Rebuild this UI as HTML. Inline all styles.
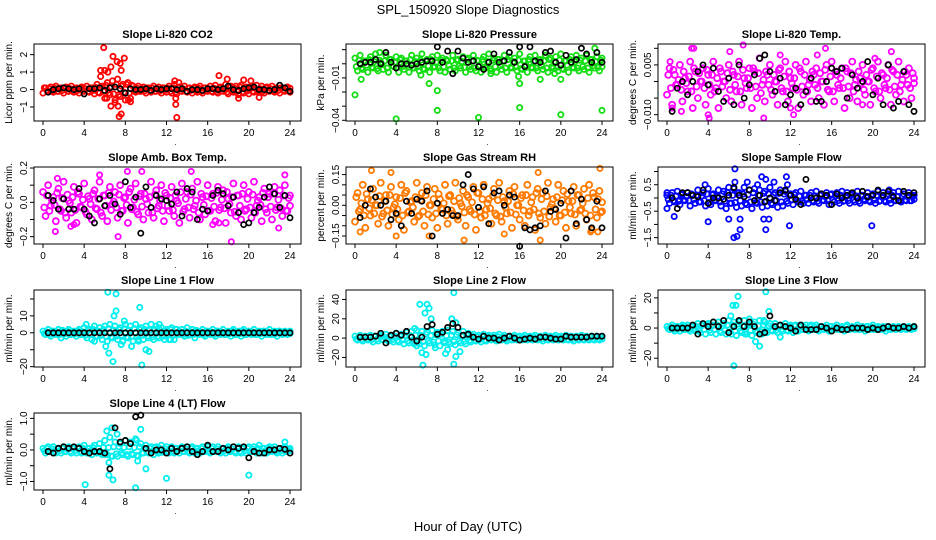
<!DOCTYPE html>
<html><head><meta charset="utf-8"><style>
html,body{margin:0;padding:0;background:#fff}
svg{display:block;font-family:"Liberation Sans",Arial,sans-serif}
</style></head><body>
<svg id="fig" width="936" height="540" viewBox="0 0 936 540" xmlns="http://www.w3.org/2000/svg">
<text x="468" y="14" text-anchor="middle" font-size="13">SPL_150920  Slope Diagnostics</text>
<text x="468" y="531" text-anchor="middle" font-size="13">Hour of Day (UTC)</text>
</svg>
<script>
const xTicks = [0,4,8,12,16,20,24];
const blackHours = [0.5,1,1.5,2,2.5,3,3.5,4,4.5,5,5.5,6,6.5,7,7.5,8,8.5,9,9.5,10,10.5,11,11.5,12,12.5,13,13.5,14,14.5,15,15.5,16,16.5,17,17.5,18,18.5,19,19.5,20,20.5,21,21.5,22,22.5,23,23.5,24];

// CO2
const co2Band = [-0.2,0.1,-0.1,0.15,-0.15,0.2,-0.1,0.1,-0.2,0.15,-0.1,0.2,-0.15,0.1,-0.2,0.15,-0.1,0.2,-0.15,0.1,-0.25,0.3,-0.2,0.2,-0.5,0.4,-0.3,0.5,-0.6,0.6,-0.4,0.3,-0.6,0.4,-0.5,0.2,-0.15,0.2,-0.1,0.15,-0.2,0.1,-0.15,0.2,-0.1,0.15,-0.2,0.1,-0.15,0.2,-0.2,0.3,-0.25,0.15,-0.1,0.2,-0.15,0.1,-0.2,0.15,-0.15,0.2,-0.2,0.1,-0.1,0.2,-0.15,0.25,-0.2,0.15,-0.1,0.3,-0.25,0.2,-0.15,0.2,-0.3,0.25,-0.2,0.15,-0.25,0.2,-0.15,0.25,-0.1,0.2,-0.2,0.15,-0.1,0.2,-0.15,0.1,-0.2,0.1,-0.1,0.15,-0.15];
const co2OutH = [5.9,5.6,6.0,6.3,6.6,6.8,7.2,7.5,7.6,7.9,5.6,6.6,7.0,7.3,7.4,7.6,8.3,8.5,12.8,12.9,12.9,13.0,13.2,17.1,17.9,19.5,20.2,19.0,21.0,6.2];
const co2OutV = [2.4,1.1,1.1,1.0,1.3,1.9,1.6,1.5,1.1,1.8,0.75,-0.95,-0.75,-0.95,-1.55,-1.4,-0.6,-0.7,0.5,-0.5,-0.85,-1.6,0.4,0.8,0.6,0.55,0.5,-0.5,-0.45,-0.5];
const co2Black = [-0.15,0,0.05,0.1,0.05,0,0.05,-0.25,0.05,0.05,0.1,-0.05,0.1,0.15,0.05,-0.2,0.05,0,0,0.05,-0.05,0.05,0,0.05,0.05,0,0.05,-0.1,0,0,-0.05,0.05,0.05,0,0.05,0.2,0,-0.05,0.05,0.1,0.15,0,0,-0.05,0,0.25,0.1,-0.1];
const co2Ticks = [-1,0,1,2];
const co2Labels = ["−1","0","1","2"];

// Pressure
const prBand = [0.004,-0.005,0.006,-0.004,0.002,-0.006,0.005,-0.003,0.007,-0.005,0.001,-0.004,0.006,-0.006,0.003,-0.002,0.005,-0.006,0.004,-0.004,0.002,-0.006,0.006,-0.003,0.004,-0.005,0.007,-0.004,0.003,-0.006,0.005,-0.002,0.006,-0.005,0.004,-0.006,0.002,-0.004,0.006,-0.005,0.003,-0.003,0.005,-0.006,0.004,-0.004,0.006,-0.005,0.002,-0.006,0.005,-0.003,0.007,-0.005,0.004,-0.006,0.003,-0.004,0.006,-0.006,0.005,-0.003,0.004,-0.005,0.007,-0.004,0.002,-0.006,0.005,-0.003,0.006,-0.005,0.003,-0.004,0.006,-0.006,0.004,-0.003,0.005,-0.005,0.007,-0.004,0.002,-0.006,0.005,-0.003,0.006,-0.005,0.004,-0.004,0.006,-0.006,0.003,-0.003,0.005,-0.005,0.004];
const prOutH = [0.0,4.0,8.0,12.0,16.0,20.0,24.0,8.0,0.6,7.2,16.0,6.4,13.2,18.0,20.0,2.4,15.9,19.4,23.3];
const prOutV = [-0.022,-0.039,-0.033,-0.038,-0.031,-0.036,-0.033,-0.019,-0.011,-0.014,-0.014,-0.008,-0.007,-0.011,-0.011,0.008,-0.009,-0.007,0.011];
const prBlack = [0,0.001,0.001,0.003,0,0.008,0.001,-0.003,0,0,-0.001,0,0.001,0.002,0.002,0.012,0.001,0.009,-0.007,0.009,0.004,0.001,0.002,-0.002,-0.004,0.001,0.007,0.001,0.002,0.008,0.001,0.012,-0.002,0.012,0.002,0.001,0.008,0.009,0.001,-0.001,0.006,0.001,0.003,0.011,0.007,0.001,0.008,0.001];
const prTicks = [-0.04,-0.03,-0.02,-0.01,0,0.01];
const prLabels = ["−0.04","","","−0.01","",""];

// Li-820 Temp
const ltBand = [-0.004,0.004,-0.007,0.002,-0.001,0.005,-0.006,0.001,-0.003,0.006,-0.008,0.003,-0.005,0.000,0.004,-0.007,0.002,-0.004,0.006,-0.002,-0.008,0.003,0.000,-0.005,0.005,-0.006,0.002,-0.003,0.006,-0.007,0.001,-0.002,0.004,-0.008,0.003,-0.005,0.007,-0.001,-0.006,0.002,0.005,-0.004,0.000,-0.007,0.004,-0.003,0.006,-0.006,0.001,-0.002,0.005,-0.008,0.003,-0.004,0.006,-0.001,-0.006,0.002,0.004,-0.005,0.000,-0.007,0.005,-0.003,0.006,-0.006,0.002,-0.002,0.004,-0.008,0.003,-0.005,0.006,-0.001,-0.006,0.001,0.005,-0.004,0.000,-0.007,0.004,-0.003,0.006,-0.005,0.002,-0.002,0.005,-0.007,0.003,-0.004,0.006,-0.001,-0.006,0.002,0.004,-0.005,0.001];
const ltOutH = [0.3,0.5,1.4,2.4,2.6,4.0,4.1,6.1,7.4,9.4,11.0,12.0,14.6,15.4,12.3,20.2,21.8,19.0];
const ltOutV = [0.006,-0.008,-0.009,0.010,0.010,-0.010,-0.011,0.009,0.011,-0.011,0.008,-0.008,0.008,0.010,-0.010,0.007,0.009,-0.007];
const ltBlack = [-0.009,-0.002,0,-0.004,0,0.003,0.005,-0.001,0.004,-0.003,-0.006,0.001,-0.007,0.005,-0.005,-0.001,0.002,0.007,0.008,0.003,-0.003,0.001,-0.007,-0.004,-0.002,-0.007,-0.003,0.001,-0.006,-0.006,0,0.004,0.003,0.004,-0.005,0.002,-0.002,0,0.006,-0.004,0.001,-0.007,0.005,-0.008,-0.006,0.003,-0.007,-0.009];
const ltTicks = [-0.010,-0.005,0,0.005,0.010];
const ltLabels = ["−0.010","","","0.005",""];

// Amb Box Temp
const abBand = [0.06,-0.08,0.1,-0.02,0.03,-0.11,0.08,-0.05,0.12,-0.09,0.01,-0.06,0.09,-0.12,0.05,-0.03,0.11,-0.07,0.02,-0.1,0.07,-0.04,0.12,-0.08,0.04,-0.11,0.09,-0.01,0.06,-0.09,0.1,-0.05,0.03,-0.12,0.08,-0.03,0.11,-0.07,0.05,-0.1,0.02,-0.06,0.12,-0.09,0.07,-0.02,0.1,-0.11,0.04,-0.05,0.09,-0.08,0.01,-0.12,0.11,-0.04,0.06,-0.09,0.08,-0.02,0.12,-0.1,0.03,-0.07,0.1,-0.05,0.05,-0.11,0.09,-0.03,0.07,-0.12,0.02,-0.06,0.11,-0.08,0.04,-0.1,0.1,-0.04,0.06,-0.09,0.12,-0.02,0.03,-0.11,0.08,-0.06,0.05,-0.1,0.09,-0.03,0.07,-0.08,0.1,-0.05,0.04];
const abOutH = [1.2,2.7,7.3,9.6,16.5,18.3,17.1,22.9,1.4,5.5,14.4,23.5,8.2,3.0];
const abOutV = [-0.17,-0.14,-0.2,0.18,-0.13,-0.23,-0.12,-0.15,0.14,0.16,0.18,0.16,0.18,-0.13];
const abBlack = [0.04,0.01,-0.04,0.02,-0.04,-0.04,0.08,-0.04,-0.08,-0.12,0.02,-0.02,0.04,-0.01,-0.07,0.12,-0.03,0.03,-0.18,0.09,-0.03,0.04,0.02,0.01,-0.01,0.06,-0.08,0.08,0.06,-0.1,-0.04,-0.05,0.04,0.07,0.05,-0.02,0.03,-0.06,-0.13,-0.12,-0.06,-0.03,0.03,0.09,0.05,-0.03,0.04,-0.09];
const abTicks = [-0.2,-0.1,0,0.1,0.2];
const abLabels = ["−0.2","","0.0","","0.2"];

// Gas Stream RH
const rhBand = [-0.08,0.06,-0.02,0.1,-0.11,0.03,-0.05,0.08,0.0,-0.09,0.11,-0.04,0.05,-0.1,0.09,-0.01,0.04,-0.07,0.1,-0.12,0.07,-0.03,0.02,-0.08,0.11,-0.05,0.06,-0.1,0.09,0.0,-0.06,0.08,-0.11,0.03,-0.02,0.1,-0.09,0.05,-0.04,0.11,-0.07,0.01,0.07,-0.1,0.04,-0.03,0.09,-0.12,0.06,-0.06,0.1,-0.02,0.03,-0.09,0.08,-0.05,0.11,-0.08,0.02,-0.04,0.07,-0.11,0.09,0.0,-0.07,0.05,-0.1,0.1,-0.03,0.04,-0.12,0.08,-0.06,0.06,-0.09,0.11,-0.01,0.03,-0.08,0.1,-0.05,0.07,-0.11,0.02,-0.04,0.09,-0.1,0.05,-0.02,0.08,-0.07,0.1,-0.12,0.04,-0.06,0.07,-0.03];
const rhOutH = [0.5,1.6,4.0,7.2,10.6,14.5,18.0,22.9,23.8,17.8,3.5,23.6];
const rhOutV = [-0.13,0.17,-0.15,-0.15,-0.17,-0.14,-0.17,-0.13,0.18,0.16,0.16,-0.13];
const rhBlack = [-0.06,0,0.08,0.04,0,0.02,-0.07,-0.04,-0.1,0.02,-0.04,0.03,0.02,0.07,-0.15,0.01,-0.04,-0.02,-0.05,-0.05,0.1,0.15,0.08,-0.01,0.09,-0.09,0.06,0.07,0,0.05,0.04,-0.2,-0.11,-0.12,-0.11,-0.1,0.07,-0.03,-0.02,0.01,-0.16,0.07,-0.09,0.03,-0.07,-0.11,0.02,-0.11];
const rhTicks = [-0.15,-0.10,-0.05,0,0.05,0.10,0.15];
const rhLabels = ["−0.15","","","0.00","","","0.15"];

// Sample Flow
const sfBand = [0.1,-0.2,0.2,-0.15,0.25,-0.25,0.15,-0.1,0.2,-0.3,0.1,-0.2,0.3,-0.15,0.2,-0.3,0.35,-0.25,0.15,-0.1,0.3,-0.3,0.25,-0.4,0.4,-0.2,0.35,-0.35,0.2,-0.3,0.4,-0.25,0.3,-0.4,0.35,-0.2,0.3,-0.35,0.25,-0.3,0.4,-0.25,0.2,-0.35,0.3,-0.3,0.25,-0.2,0.15,-0.25,0.2,-0.15,0.25,-0.2,0.1,-0.2,0.2,-0.15,0.25,-0.2,0.15,-0.1,0.2,-0.25,0.15,-0.15,0.2,-0.2,0.25,-0.1,0.2,-0.2,0.15,-0.15,0.25,-0.2,0.1,-0.1,0.2,-0.15,0.15,-0.2,0.25,-0.1,0.2,-0.15,0.15,-0.2,0.2,-0.1,0.25,-0.15,0.15,-0.1,0.2,-0.1,0.1];
const sfOutH = [0,0,0.7,4.0,6.0,6.5,6.8,7.1,7.1,6.6,7.8,8.8,9.2,9.6,9.4,9.6,9.9,11.9,11.6,19.9,10.4,11.7,3.7,6.6,21.6];
const sfOutV = [0.2,-0.4,-0.7,-0.9,-0.8,-1.5,-1.45,-0.8,-1.2,1.1,0.6,0.5,0.8,0.7,-0.8,-1.2,-0.8,-1.05,0.8,-1.05,0.6,0.5,0.5,0.6,0.3];
const sfBlack = [0.0,-0.4,0.2,0.2,0.1,0.05,0.3,-0.2,0,0,-0.05,0.1,0.4,0.1,0.05,0.3,-0.1,0.1,-0.15,0,-0.1,0.2,0.3,0.1,-0.05,-0.25,0.7,0.0,0,0.15,0.1,-0.25,0.15,0,0.1,0.2,0,0.25,0.05,0.1,0.3,0.1,0.25,0.05,-0.1,0.25,0.1,0.2];
const sfTicks = [-1.5,-1.0,-0.5,0,0.5,1.0];
const sfLabels = ["−1.5","","−0.5","","0.5",""];

// Line 1 Flow
const l1Band = [1,-1,2,-2,1,-1,2,-3,1,-2,2,-1,1,-2,2,-1,3,-3,2,-4,4,-2,3,-4,4,-5,5,-3,4,-4,3,-5,5,-3,4,-5,5,-4,3,-4,4,-3,5,-4,4,-3,3,-2,2,-4,3,-4,2,-1,2,-2,3,-1,2,-3,1,-1,2,-2,1,-1,2,-2,1,-1,2,-1,1,-2,2,-1,1,-2,2,-1,1,-1,2,-1,1,-2,1,-1,2,-1,1,-2,1,-1,1,-1,1];
const l1OutH = [6.3,7.1,7.1,6.9,9.4,6.1,6.4,6.8,7.9,7.6,8.6,9.6,10.0,10.3,4.2,5.0,11.3,9.3,11.8,12.4];
const l1OutV = [24,23,13,10,15,-8,-12,-17,7,-7,-8,-19,-10,-11,5,-5,5,-5,-4,-4];
const l1Black = [0,0,0,0,0,0,0,0,0,0,0,0,0,0,0,0,0,0,0,0,0,0,0,0,0,0,0,0,0,0,0,0,0,0,0,0,0,0,0,0,0,0,0,0,0,0,0,0];
const l1Ticks = [-20,-10,0,10,20];
const l1Labels = ["−20","","0","10",""];

// Line 2 Flow
const l2Band = [2,-2,3,-3,2,-2,3,-4,2,-3,3,-2,4,-3,3,-4,5,-4,4,-6,6,-5,7,-6,8,-6,7,-8,6,-5,8,-7,6,-8,7,-5,8,-6,7,-7,6,-5,7,-6,5,-4,4,-3,3,-4,4,-3,3,-2,3,-3,4,-2,3,-3,2,-2,3,-2,2,-2,3,-2,2,-2,3,-2,2,-3,3,-2,2,-2,3,-2,2,-2,3,-2,2,-3,2,-2,3,-2,2,-2,2,-2,2,-2,2];
const l2OutH = [6.3,6.8,7.0,7.2,7.4,9.6,9.4,9.8,6.6,9.6,6.5,6.9,9.8,10.2,9.0,8.8,7.8,5.8,6.0];
const l2OutV = [35,26,35,31,20,47,20,16,-28,-27,-15,-17,-19,-14,-12,-16,-10,10,-8];
const l2Black = [1,1,1,2,5,-5,3,5,3,7,1,-3,1,12,14,4,6,11,15,11,3,4,1,-1,2,0,0,-2,0,2,0,-2,-1,0,-1,1,1,0,-1,-1,2,1,1,1,1,2,2,2];
const l2Ticks = [-20,0,20,40];
const l2Labels = ["−20","0","20","40"];

// Line 3 Flow
const l3Band = [1,-1,2,-2,1,-2,2,-1,2,-2,1,-2,3,-3,2,-4,3,-3,2,-4,4,-3,3,-4,5,-4,4,-5,4,-3,5,-4,3,-5,4,-3,5,-4,4,-3,3,-2,3,-3,2,-2,3,-2,2,-3,2,-2,2,-1,2,-2,2,-1,2,-2,1,-1,2,-2,1,-1,2,-1,1,-2,2,-1,1,-1,2,-1,1,-2,1,-1,2,-1,1,-1,1,-2,1,-1,1,-1,1,-1,1,-1,1,-1,1];
const l3OutH = [6.4,6.7,6.9,9.6,9.9,6.5,8.6,9.0,6.2,8.0,11.0,7.6,9.4];
const l3OutV = [15,15,21,24,11,-25,-9,-12,8,6,-6,-4,5];
const l3Black = [0,0,0,0,2,-4,3,1,4,1,5,-3,1,5,1,4,1,-4,-3,8,1,2,1,0,-2,2,-1,-1,-1,1,0,-2,0,-1,-1,0,0,0,-1,0,-1,0,1,0,0,1,0,1];
const l3Ticks = [-20,-10,0,10,20];
const l3Labels = ["−20","","0","","20"];

// Line 4 Flow
const l4Band = [0.05,-0.1,0.1,-0.05,0.1,-0.1,0.05,-0.1,0.1,-0.05,0.1,-0.1,0.05,-0.1,0.1,-0.1,0.15,-0.1,0.05,-0.15,0.15,-0.1,0.2,-0.15,0.3,-0.15,0.4,-0.2,0.25,-0.2,0.2,-0.15,0.3,-0.2,0.25,-0.15,0.35,-0.2,0.2,-0.1,0.15,-0.1,0.1,-0.15,0.1,-0.1,0.15,-0.05,0.1,-0.1,0.1,-0.1,0.05,-0.1,0.1,-0.05,0.1,-0.1,0.1,-0.1,0.05,-0.1,0.1,-0.05,0.1,-0.1,0.1,-0.05,0.1,-0.1,0.05,-0.1,0.1,-0.05,0.1,-0.1,0.1,-0.1,0.05,-0.1,0.1,-0.05,0.1,-0.1,0.15,-0.1,0.05,-0.1,0.1,-0.05,0.1,-0.1,0.05,-0.1,0.1,-0.05,0.05];
const l4OutH = [4.1,9.0,12.0,20.0,6.4,6.4,6.8,10.0,9.2,6.2,6.7,7.2,9.5,9.1,23.5];
const l4OutV = [-1.1,-1.2,-0.9,-0.8,-0.4,-0.8,-0.95,-0.6,-0.35,0.6,0.7,0.5,0.65,0.3,0.25];
const l4Black = [-0.05,-0.1,0.05,0.1,0.05,0.1,0.05,-0.05,-0.1,-0.05,-0.05,-0.1,-0.6,0.7,0.25,0.3,0.2,1.05,1.1,0.05,-0.1,0,0,-0.1,0.05,-0.05,0.05,0.1,-0.05,-0.15,-0.05,0.15,-0.05,-0.05,0.05,0,0.1,0.05,0.1,-0.25,-0.05,-0.1,-0.1,0,0,0.05,0.02,-0.1];
const l4Ticks = [-1.0,-0.5,0,0.5,1.0];
const l4Labels = ["−1.0","","0.0","","1.0"];

const NS = "http://www.w3.org/2000/svg";
const svg = document.getElementById('fig');
function mk(tag, attrs, parent){ const e=document.createElementNS(NS,tag); for(const k in attrs) e.setAttribute(k,attrs[k]); (parent||svg).appendChild(e); return e; }

const panels = [
 {id:'co2',title:'Slope Li-820 CO2',ylab:'Licor ppm per min.',r:0,c:0,dom:[-1.8,2.61],band:co2Band,oh:co2OutH,ov:co2OutV,blk:co2Black,ticks:co2Ticks,labels:co2Labels,col:'#ff0000',rad:2.6},
 {id:'pressure',title:'Slope Li-820 Pressure',ylab:'kPa per min.',r:0,c:1,dom:[-0.0405,0.014],band:prBand,oh:prOutH,ov:prOutV,blk:prBlack,ticks:prTicks,labels:prLabels,col:'#11dd11',rad:2.6},
 {id:'li820-temp',title:'Slope Li-820 Temp.',ylab:'degrees C per min.',r:0,c:2,dom:[-0.0119,0.0113],band:ltBand,oh:ltOutH,ov:ltOutV,blk:ltBlack,ticks:ltTicks,labels:ltLabels,col:'#ff00ff',rad:3},
 {id:'amb-box-temp',title:'Slope Amb. Box Temp.',ylab:'degrees C per min.',r:1,c:0,dom:[-0.243,0.206],band:abBand,oh:abOutH,ov:abOutV,blk:abBlack,ticks:abTicks,labels:abLabels,col:'#ff00ff',rad:3},
 {id:'gas-stream-rh',title:'Slope Gas Stream RH',ylab:'percent per min.',r:1,c:1,dom:[-0.189,0.187],band:rhBand,oh:rhOutH,ov:rhOutV,blk:rhBlack,ticks:rhTicks,labels:rhLabels,col:'#ff7a00',rad:3},
 {id:'sample-flow',title:'Slope Sample Flow',ylab:'ml/min per min.',r:1,c:2,dom:[-1.74,1.17],band:sfBand,oh:sfOutH,ov:sfOutV,blk:sfBlack,ticks:sfTicks,labels:sfLabels,col:'#0000ff',rad:2.7},
 {id:'line1-flow',title:'Slope Line 1 Flow',ylab:'ml/min per min.',r:2,c:0,dom:[-20.2,25.3],band:l1Band,oh:l1OutH,ov:l1OutV,blk:l1Black,ticks:l1Ticks,labels:l1Labels,col:'#00eeee',rad:2.6},
 {id:'line2-flow',title:'Slope Line 2 Flow',ylab:'ml/min per min.',r:2,c:1,dom:[-29.9,49.8],band:l2Band,oh:l2OutH,ov:l2OutV,blk:l2Black,ticks:l2Ticks,labels:l2Labels,col:'#00eeee',rad:2.6},
 {id:'line3-flow',title:'Slope Line 3 Flow',ylab:'ml/min per min.',r:2,c:2,dom:[-25.8,25.2],band:l3Band,oh:l3OutH,ov:l3OutV,blk:l3Black,ticks:l3Ticks,labels:l3Labels,col:'#00eeee',rad:2.6},
 {id:'line4-flow',title:'Slope Line 4 (LT) Flow',ylab:'ml/min per min.',r:3,c:0,dom:[-1.27,1.17],band:l4Band,oh:l4OutH,ov:l4OutV,blk:l4Black,ticks:l4Ticks,labels:l4Labels,col:'#00eeee',rad:2.6}
];

panels.forEach(p=>{
  const L = 34 + 312*p.c, W = 267, T = 44 + 123*p.r, H = 77;
  const x0 = L+9, x1 = L+256;
  const xs = h => x0 + (h/24)*(x1-x0);
  const ys = v => T + H - (v - p.dom[0])/(p.dom[1]-p.dom[0])*H;
  const g = mk('g',{});
  
  
  const t = mk('text',{x:L+W/2,y:T-6,'text-anchor':'middle','font-size':'11','font-weight':'bold'},g);
  t.textContent = p.title;
  
  
  const yl = mk('text',{x:0,y:0,transform:`translate(${L-22},${T+H/2}) rotate(-90)`,'text-anchor':'middle','font-size':'10'},g);
  yl.textContent = p.ylab;
  
  
  xTicks.forEach(v=>{
    const x = xs(v);
    mk('line',{x1:x,y1:T+H,x2:x,y2:T+H+4,stroke:'#000','stroke-width':1},g);
    const tl = mk('text',{x:x,y:T+H+15,'text-anchor':'middle','font-size':'10'},g);
    tl.textContent = String(v);
    
    
  });
  mk('text',{x:L+W/2+8,y:T+H+24,'text-anchor':'middle','font-size':'8'},g).textContent='.';
  p.ticks.forEach((v,i)=>{
    const y = ys(v);
    mk('line',{x1:L,y1:y,x2:L-4,y2:y,stroke:'#000','stroke-width':1},g);
    if(p.labels[i]){
      const tl = mk('text',{x:0,y:0,transform:`translate(${L-7},${y}) rotate(-90)`,'text-anchor':'middle','font-size':'10'},g);
      tl.textContent = p.labels[i];
      
      
    }
  });
  const cg = mk('g',{fill:'none',stroke:p.col,'stroke-width':1.8},g);
  
  
  const n = p.band.length;
  const step = 24/(n-1);
  p.band.forEach((v,i)=>{
    const h = i*step;
    const c = mk('circle',{cx:xs(h),cy:ys(v),r:p.rad},cg);
    
    
    // denser rendering of the same reading, mirrored half-amplitude offset
    const c2 = mk('circle',{cx:xs(Math.min(24,h+step/2)),cy:ys(-v*0.5),r:p.rad},cg);
    
    
  });
  p.oh.forEach((h,i)=>{
    const c = mk('circle',{cx:xs(h),cy:ys(p.ov[i]),r:2.6},cg);
    
    
  });
  const bg = mk('g',{fill:'none',stroke:'#000','stroke-width':1.7},g);
  
  
  blackHours.forEach((h,i)=>{
    const c = mk('circle',{cx:xs(h),cy:ys(p.blk[i]),r:2.6},bg);
    
    
  });
  const box = mk('rect',{x:L,y:T,width:W,height:H,fill:'none',stroke:'#000','stroke-width':1},g);
  
  
});
</script>
</body></html>
